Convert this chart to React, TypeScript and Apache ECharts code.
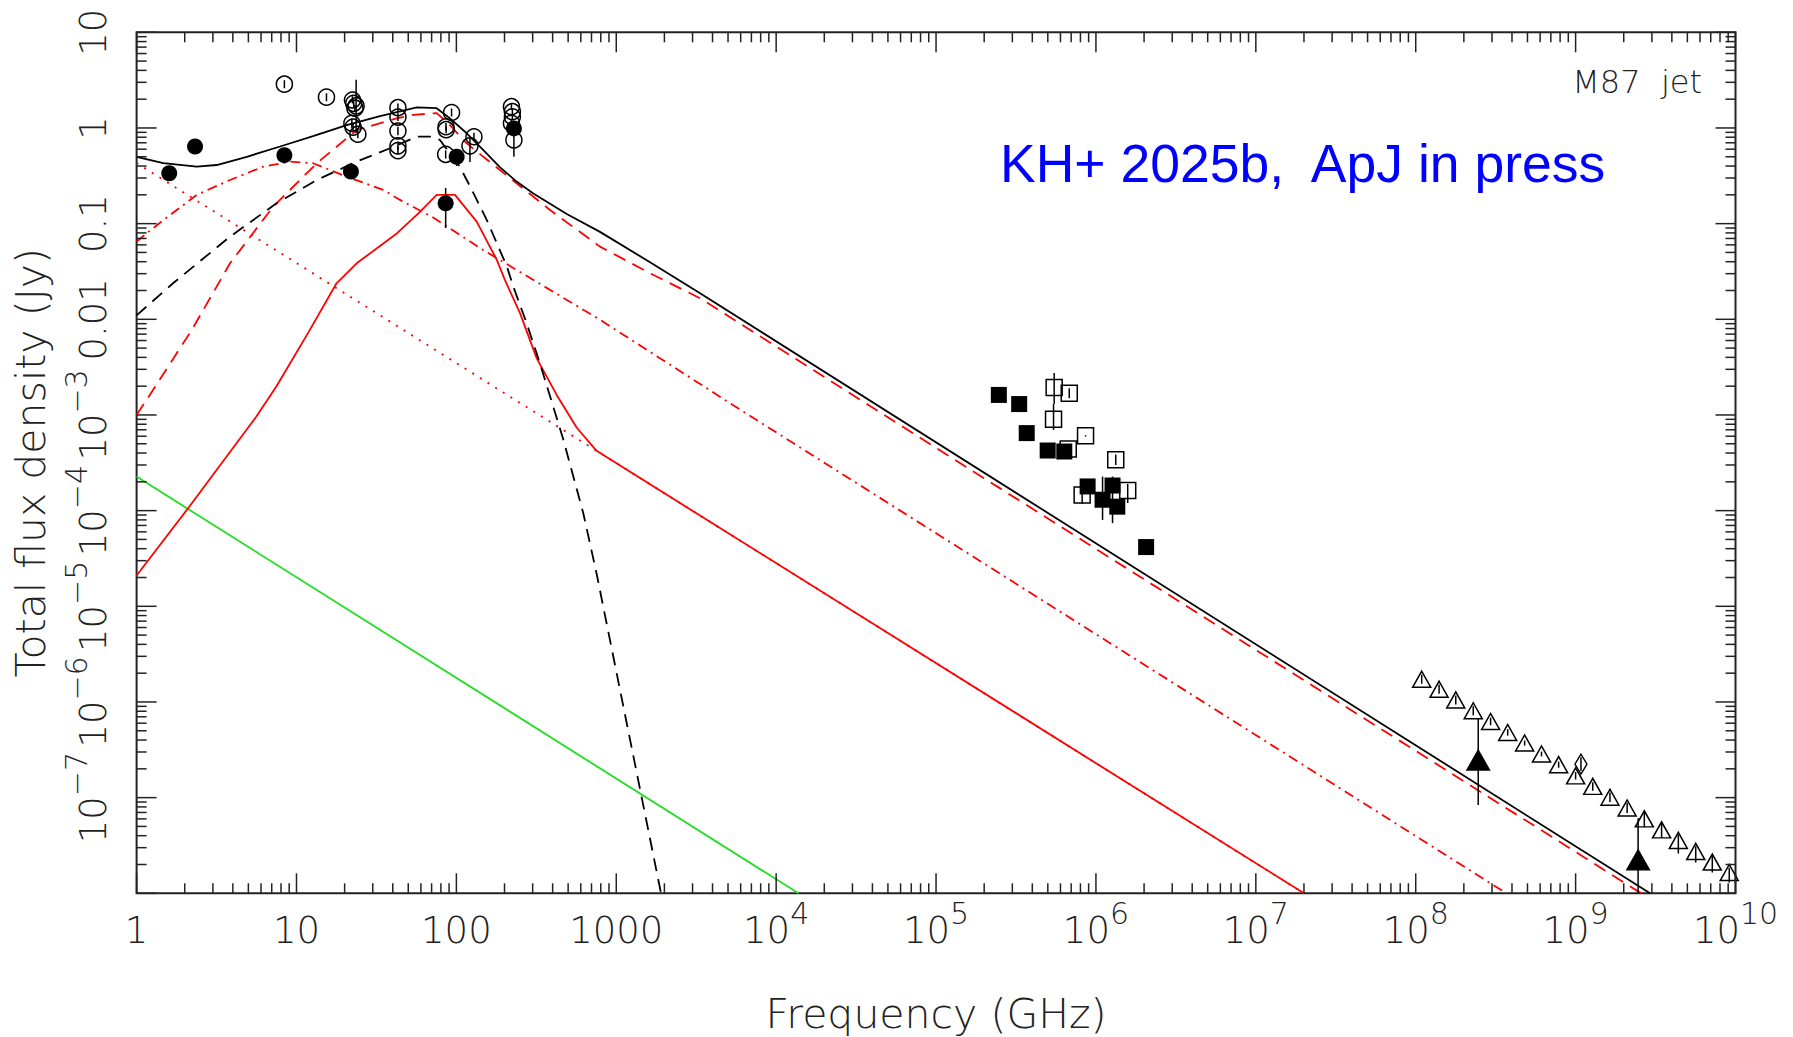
import React, { useEffect, useRef } from "react";
import * as echarts from "echarts";

// ---- axes -------------------------------------------------------------
const X_MIN = 1;
const X_MAX = 1e10;
const Y_MIN = 1e-8;
const Y_MAX = 10;
const X_DECADES = [0, 1, 2, 3, 4, 5, 6, 7, 8, 9, 10];
const Y_DECADES = [-8, -7, -6, -5, -4, -3, -2, -1, 0, 1];
const MINOR_MANTISSAS = [2, 3, 4, 5, 6, 7, 8, 9];

// [base, exponent] per decade
const X_TICK_LABELS: [string, string][] = [
  ["1", ""], ["10", ""], ["100", ""], ["1000", ""], ["10", "4"], ["10", "5"],
  ["10", "6"], ["10", "7"], ["10", "8"], ["10", "9"], ["10", "10"],
];
const Y_TICK_LABELS: [string, string][] = [
  ["", ""], ["10", "\u22127"], ["10", "\u22126"], ["10", "\u22125"], ["10", "\u22124"],
  ["10", "\u22123"], ["0.01", ""], ["0.1", ""], ["1", ""], ["10", ""],
];

// ---- model curves: [frequency (GHz), flux density (Jy)] ---------------
const totalModel = [
  [1, 0.5], [1.47, 0.43], [2.38, 0.394], [3.17, 0.41], [4.89, 0.5], [7.9, 0.64],
  [12.7, 0.82], [20.6, 1.07], [33.3, 1.33], [56.5, 1.64], [75.3, 1.61], [91.2, 1.26],
  [116, 0.88], [147, 0.59], [187, 0.39], [238, 0.275], [303, 0.207], [490, 0.126],
  [791, 0.082], [1626, 0.0395], [3343, 0.0187], [2.92e9, 1e-8],
];
const coreCutoff = [
  [1, 0.011], [1.69, 0.0238], [3.84, 0.0731], [7.5, 0.163], [13.4, 0.286], [23.8, 0.445],
  [38.5, 0.614], [56.5, 0.81], [68.4, 0.81], [78.9, 0.75], [105, 0.394], [122, 0.244],
  [155, 0.109], [207, 0.0356], [227, 0.022], [275, 9.1e-3], [333, 3.47e-3], [467, 5.5e-4],
  [622, 9.4e-5], [753, 2.2e-5], [1905, 1e-8],
];
const jetSum = [
  [1, 1.0e-3], [1.21, 1.62e-3], [2.21, 7.7e-3], [3.84, 0.0385], [7.16, 0.151], [13.4, 0.428],
  [23.8, 0.953], [42.4, 1.26], [53.8, 1.37], [75.3, 1.43], [91.2, 1.07], [116, 0.69],
  [187, 0.364], [385, 0.139], [791, 0.0575], [1626, 0.0303], [3343, 0.0166],
  [1.22e5, 3.67e-4], [2.57e9, 1e-8],
];
const peakedComponent = [
  [1, 2.1e-5], [2.1, 1.06e-4], [5.6, 9.6e-4], [7.5, 2.0e-3], [12.1, 7.7e-3], [17.8, 0.0238],
  [23.8, 0.0385], [42.4, 0.079], [59.2, 0.133], [75.3, 0.2], [98, 0.2], [134, 0.105],
  [179, 0.0418], [201, 0.0258], [250, 0.0116], [318, 3.9e-3], [424, 1.62e-3],
  [565, 7.4e-4], [753, 4.22e-4], [2e7, 1e-8],
];
const brokenComponent = [
  [1, 0.065], [1.47, 0.109], [2.38, 0.2], [3.84, 0.286], [6.2, 0.394], [9.1, 0.445],
  [12.7, 0.428], [20.6, 0.31], [34.9, 0.225], [44.4, 0.177], [70.8, 0.117], [147, 0.053],
  [303, 0.0258], [791, 9.9e-3], [5140, 1.33e-3], [3.69e8, 1e-8],
];
const powerLawComponent = [[1, 0.43], [753, 4.22e-4], [2e7, 1e-8]];
const faintComponent = [[1, 2.27e-4], [1.38e4, 1e-8]];

// ---- measurements: [frequency (GHz), flux (Jy), error low, error high] ----
const radioFilled = [
  [1.6, 0.336, 0.336, 0.336], [2.32, 0.64, 0.64, 0.64], [8.4, 0.52, 0.52, 0.52],
  [21.9, 0.35, 0.35, 0.35], [85.7, 0.163, 0.09, 0.236], [100.4, 0.5, 0.4, 0.59],
  [229, 0.99, 0.99, 0.99],
];
const radioOpen = [
  [8.4, 2.87, 2.6, 3.15], [15.4, 2.1, 1.9, 2.3],
  [22.4, 1.96, 1.8, 2.15], [23.6, 1.7, 0.88, 3.2], [22.8, 1.81, 1.66, 1.97], [23.2, 1.61, 1.48, 1.75],
  [22.2, 1.12, 1.0, 1.25], [22.6, 1.02, 0.93, 1.12], [24.2, 0.86, 0.78, 0.95],
  [43.1, 1.63, 1.48, 1.8], [43.1, 1.3, 1.18, 1.43], [43.1, 0.93, 0.84, 1.03],
  [43.1, 0.65, 0.59, 0.72], [43.1, 0.58, 0.53, 0.64],
  [93.3, 1.45, 1.32, 1.6], [86.1, 1.03, 0.94, 1.13], [86.3, 0.96, 0.88, 1.05], [85.7, 0.53, 0.48, 0.58],
  [128.8, 0.81, 0.74, 0.89], [121.6, 0.65, 0.44, 0.81],
  [221, 1.67, 1.55, 1.8], [224, 1.48, 1.37, 1.6], [224, 1.31, 1.21, 1.42], [221, 1.12, 1.03, 1.21],
  [229, 0.75, 0.5, 1.03],
];
const xrayFilled = [
  [2.47e5, 1.62e-3, 1.62e-3, 1.62e-3], [3.31e5, 1.3e-3, 1.3e-3, 1.3e-3],
  [3.69e5, 6.46e-4, 5.6e-4, 6.46e-4], [4.99e5, 4.25e-4, 4.25e-4, 4.25e-4],
  [6.34e5, 4.15e-4, 4.15e-4, 4.15e-4], [8.87e5, 1.79e-4, 1.79e-4, 1.79e-4],
  [1.27e6, 1.83e-4, 7.4e-5, 2.27e-4], [1.1e6, 1.3e-4, 8.0e-5, 2.27e-4],
  [1.36e6, 1.1e-4, 1.1e-4, 1.1e-4], [2.06e6, 4.16e-5, 4.16e-5, 4.16e-5],
];
const xrayOpen = [
  [5.48e5, 1.94e-3, 1.3e-3, 2.74e-3], [6.81e5, 1.69e-3, 1.5e-3, 1.9e-3],
  [5.43e5, 9.0e-4, 6.98e-4, 1.3e-3], [8.61e5, 6.05e-4, 5.95e-4, 6.15e-4],
  [6.71e5, 4.4e-4, 4.0e-4, 4.8e-4], [1.33e6, 3.4e-4, 3.0e-4, 3.85e-4],
  [8.2e5, 1.46e-4, 1.17e-4, 1.65e-4], [1.58e6, 1.62e-4, 1.2e-4, 1.9e-4],
];
const opticalOpen = [
  [1.09e8, 1.73e-6, 1.55e-6, 1.93e-6], [1.4e8, 1.36e-6, 1.22e-6, 1.52e-6],
  [1.78e8, 1.05e-6, 0.94e-6, 1.17e-6], [2.29e8, 8.1e-7, 7.25e-7, 9.05e-7],
  [2.94e8, 6.25e-7, 5.7e-7, 6.85e-7], [3.76e8, 4.8e-7, 4.45e-7, 5.2e-7],
  [4.8e8, 3.72e-7, 3.5e-7, 3.95e-7], [6.12e8, 2.86e-7, 2.7e-7, 3.03e-7],
  [7.83e8, 2.21e-7, 2.05e-7, 2.38e-7], [1.0e9, 1.69e-7, 1.55e-7, 1.85e-7],
  [1.28e9, 1.31e-7, 1.18e-7, 1.45e-7], [1.64e9, 1.01e-7, 0.9e-7, 1.13e-7],
  [2.1e9, 7.8e-8, 6.9e-8, 8.8e-8], [2.69e9, 6.0e-8, 4.9e-8, 7.3e-8],
  [3.45e9, 4.6e-8, 3.8e-8, 5.5e-8], [4.39e9, 3.57e-8, 2.6e-8, 4.1e-8],
  [5.64e9, 2.74e-8, 2.1e-8, 3.1e-8], [7.16e9, 2.12e-8, 1.65e-8, 2.5e-8],
  [9.14e9, 1.65e-8, 1.3e-8, 1.85e-8],
];
const opticalDiamond = [[1.08e9, 2.24e-7, 1.9e-7, 2.65e-7]];
const opticalFilled = [
  [2.46e8, 2.49e-7, 8.4e-8, 6.8e-7],
  [2.46e9, 2.25e-8, 1e-8, 6.1e-8],
];

// ---- styling ----------------------------------------------------------
const INK = "#222";
const LABEL_FONT = "'DejaVu Sans', 'Liberation Sans', sans-serif";
const MAJOR_TICK = 20;
const MINOR_TICK = 10;
const RED = "#ff0000";
const LINE_WIDTH = 1.8;

const xTickData = X_DECADES.flatMap((d) =>
  (d < X_DECADES[X_DECADES.length - 1] ? [1, ...MINOR_MANTISSAS] : [1]).map((m) => [
    m * Math.pow(10, d), 1, m === 1 ? 1 : 0,
  ])
);
const yTickData = Y_DECADES.flatMap((d) =>
  (d < Y_DECADES[Y_DECADES.length - 1] ? [1, ...MINOR_MANTISSAS] : [1]).map((m) => [
    1, m * Math.pow(10, d), m === 1 ? 1 : 0,
  ])
);

const richLabel = (pair: [string, string] | undefined) => {
  if (!pair || !pair[0]) return "";
  return pair[1] ? `{b|${pair[0]}}{s|${pair[1]}}` : `{b|${pair[0]}}`;
};

const labelRich = {
  b: { fontSize: 37, fontFamily: LABEL_FONT, fontWeight: 200, color: INK, lineHeight: 64 },
  s: { fontSize: 30, fontFamily: LABEL_FONT, fontWeight: 200, color: INK, lineHeight: 30, verticalAlign: "top" },
};

const curve = (name: string, data: number[][], color: string, type: any) => ({
  name,
  type: "line",
  data,
  showSymbol: false,
  symbol: "none",
  silent: true,
  z: 2,
  lineStyle: { color, width: LINE_WIDTH, type },
});

const markers = (name: string, rows: number[][], symbol: string, size: any, filled: boolean) => ({
  name,
  type: "scatter",
  data: rows.map((r) => [r[0], r[1]]),
  symbol,
  symbolSize: size,
  silent: true,
  z: 4,
  itemStyle: {
    color: filled ? "#000" : "rgba(0,0,0,0)",
    borderColor: "#000",
    borderWidth: filled ? 0 : 1.5,
    opacity: 1,
  },
});

const errorBars = (name: string, rows: number[][]) => ({
  name,
  type: "custom",
  silent: true,
  z: 5,
  clip: true,
  data: rows.filter((r) => r[2] < r[3]),
  encode: { x: 0, y: 1 },
  renderItem: (_params: any, api: any) => {
    const lo = api.coord([api.value(0), api.value(2)]);
    const hi = api.coord([api.value(0), api.value(3)]);
    return {
      type: "line",
      shape: { x1: lo[0], y1: lo[1], x2: hi[0], y2: hi[1] },
      style: { stroke: "#000", lineWidth: 1.5 },
    };
  },
});

const tickStyle = { stroke: INK, lineWidth: 1.5 };

const xTicks = {
  type: "custom",
  silent: true,
  z: 6,
  clip: false,
  data: xTickData,
  encode: { x: 0, y: 1 },
  renderItem: (params: any, api: any) => {
    const cs = params.coordSys;
    const px = api.coord([api.value(0), 1])[0];
    const len = api.value(2) ? MAJOR_TICK : MINOR_TICK;
    const bottom = cs.y + cs.height;
    return {
      type: "group",
      children: [
        { type: "line", shape: { x1: px, y1: bottom, x2: px, y2: bottom - len }, style: tickStyle },
        { type: "line", shape: { x1: px, y1: cs.y, x2: px, y2: cs.y + len }, style: tickStyle },
      ],
    };
  },
};

const yTicks = {
  type: "custom",
  silent: true,
  z: 6,
  clip: false,
  data: yTickData,
  encode: { x: 0, y: 1 },
  renderItem: (params: any, api: any) => {
    const cs = params.coordSys;
    const py = api.coord([1, api.value(1)])[1];
    const len = api.value(2) ? MAJOR_TICK : MINOR_TICK;
    const right = cs.x + cs.width;
    return {
      type: "group",
      children: [
        { type: "line", shape: { x1: cs.x, y1: py, x2: cs.x + len, y2: py }, style: tickStyle },
        { type: "line", shape: { x1: right, y1: py, x2: right - len, y2: py }, style: tickStyle },
      ],
    };
  },
};

const option: any = {
  animation: false,
  backgroundColor: "#ffffff",
  grid: {
    left: 136.6,
    right: 57.5,
    top: 32.3,
    bottom: 143.7,
    show: true,
    borderColor: INK,
    borderWidth: 2,
    backgroundColor: "rgba(0,0,0,0)",
    containLabel: false,
    outerBoundsMode: "none",
  },
  xAxis: {
    type: "log",
    logBase: 10,
    min: X_MIN,
    max: X_MAX,
    interval: 1,
    axisLine: { show: false },
    axisTick: { show: false },
    minorTick: { show: false },
    splitLine: { show: false },
    axisLabel: {
      margin: 5,
      customValues: X_DECADES.map((d) => Math.pow(10, d)),
      formatter: (v: number) => richLabel(X_TICK_LABELS[Math.round(Math.log10(v))]),
      rich: labelRich,
    },
    name: "Frequency (GHz)",
    nameLocation: "middle",
    nameGap: 100,
    nameTextStyle: { fontSize: 41, fontFamily: LABEL_FONT, fontWeight: 200, color: INK },
  },
  yAxis: {
    type: "log",
    logBase: 10,
    min: Y_MIN,
    max: Y_MAX,
    interval: 1,
    axisLine: { show: false },
    axisTick: { show: false },
    minorTick: { show: false },
    splitLine: { show: false },
    axisLabel: {
      margin: 11,
      rotate: 90,
      customValues: Y_DECADES.map((d) => Math.pow(10, d)),
      formatter: (v: number) => richLabel(Y_TICK_LABELS[Math.round(Math.log10(v)) + 8]),
      rich: labelRich,
    },
    name: "Total flux density (Jy)",
    nameLocation: "middle",
    nameRotate: 90,
    nameGap: 85,
    nameTextStyle: { fontSize: 41, fontFamily: LABEL_FONT, fontWeight: 200, color: INK },
  },
  graphic: [
    {
      type: "text",
      x: 1702,
      y: 82.3,
      silent: true,
      style: {
        text: "M87  jet",
        fontSize: 32,
        fontFamily: LABEL_FONT,
        fontWeight: 200,
        fill: INK,
        align: "right",
        verticalAlign: "middle",
      },
    },
    {
      type: "text",
      x: 1000,
      y: 163.7,
      silent: true,
      style: {
        text: "KH+ 2025b,  ApJ in press",
        fontSize: 53.5,
        fontFamily: "'Liberation Sans', Arial, sans-serif",
        fill: "#0000ff",
        align: "left",
        verticalAlign: "middle",
      },
    },
  ],
  series: [
    curve("faint", faintComponent, "#22dd22", "solid"),
    curve("power law", powerLawComponent, RED, [2, 7]),
    curve("broken", brokenComponent, RED, [10, 5, 2, 5]),
    curve("peaked", peakedComponent, RED, "solid"),
    curve("jet sum", jetSum, RED, [13, 8]),
    curve("core", coreCutoff, "#000", [13, 8]),
    curve("total", totalModel, "#000", "solid"),
    errorBars("radio filled err", radioFilled),
    errorBars("radio open err", radioOpen),
    errorBars("xray filled err", xrayFilled),
    errorBars("xray open err", xrayOpen),
    errorBars("optical open err", opticalOpen),
    errorBars("optical diamond err", opticalDiamond),
    errorBars("optical filled err", opticalFilled),
    markers("radio filled", radioFilled, "circle", 16, true),
    markers("radio open", radioOpen, "circle", 16, false),
    markers("xray filled", xrayFilled, "rect", 16, true),
    markers("xray open", xrayOpen, "rect", 16, false),
    markers("optical open", opticalOpen, "triangle", [18, 16], false),
    markers("optical diamond", opticalDiamond, "diamond", [12, 20], false),
    markers("optical filled", opticalFilled, "triangle", [25, 22], true),
    xTicks,
    yTicks,
  ],
};

export default function App() {
  const ref = useRef<HTMLDivElement>(null);
  useEffect(() => {
    if (!ref.current) return;
    const chart = echarts.init(ref.current, null, { renderer: "svg" });
    chart.setOption(option);
    return () => chart.dispose();
  }, []);
  return (
    <div
      ref={ref}
      style={{ position: "fixed", left: 0, top: 0, width: 1793, height: 1037, background: "#fff" }}
    />
  );
}
